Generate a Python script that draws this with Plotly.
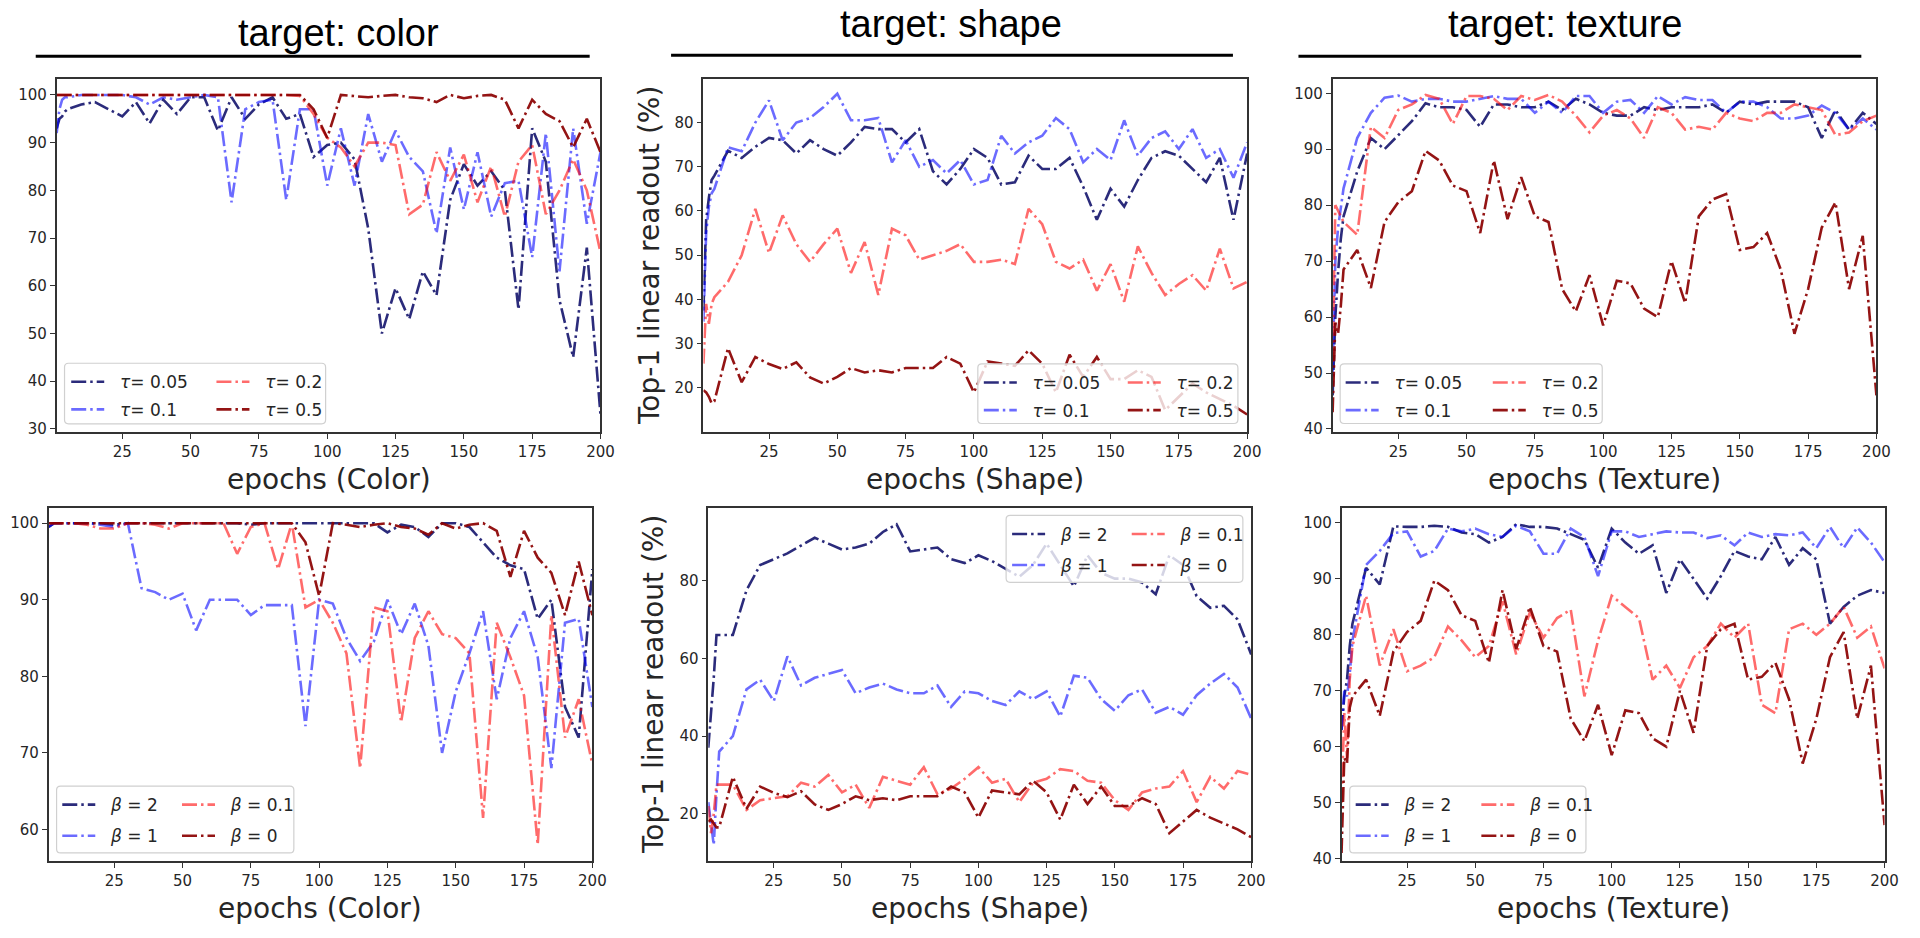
import plotly.graph_objects as go

W, H = 1920, 938

# ---------------- data ----------------
epochs = [1, 2, 3, 4, 5, 10, 15, 20, 25, 30, 35, 40, 45, 50, 55, 60, 65, 70, 75, 80,
          85, 90, 95, 100, 105, 110, 115, 120, 125, 130, 135, 140, 145, 150, 155, 160,
          165, 170, 175, 180, 185, 190, 195, 200]

# target: color, temperature tau
color_tau_005 = [93, 95, 95.5, 96.5, 97, 98, 98.5, 97, 95.5, 98.5, 94, 99, 96, 99.5, 99.5, 92.5, 99.5, 95, 98, 99.5,
                 95, 96, 87, 89.5, 90, 86.5, 72, 50, 59.5, 53, 63, 58, 78, 85.5, 81, 84,
                 80, 55, 93, 86, 57, 45, 68, 33]
color_tau_01 = [92, 97, 99, 99.5, 99.5, 100, 100, 100, 100, 99.5, 98, 99.5, 99, 99.5, 100, 99.5, 77.5, 97, 98.5, 99,
                78, 97, 97, 81, 93, 81, 96, 86, 92.5, 87, 84, 71, 89, 76, 88, 74.5,
                81.5, 82, 66, 92, 63, 93, 73, 88]
color_tau_02 = [100, 100, 100, 100, 100, 100, 100, 100, 100, 100, 100, 100, 100, 100, 100, 100, 100, 100, 100, 100,
                100, 99.8, 96, 91, 89, 85, 90, 90, 89.5, 75, 77, 88, 82, 87.5, 77.5, 85,
                74.5, 86, 89.5, 75, 80, 86.5, 80, 67]
color_tau_05 = [100, 100, 100, 100, 100, 100, 100, 100, 100, 100, 100, 100, 100, 100, 100, 100, 100, 100, 100, 100,
                100, 100, 97, 91, 100, 99.8, 99.5, 99.8, 100, 99.5, 99.3, 98.5, 100, 99.3, 99.8, 100,
                99, 93, 99, 96, 94.5, 89, 95, 88]

# target: shape, temperature tau
shape_tau_005 = [37.5, 58, 63, 67, 68, 73.6, 72, 74.5, 76.5, 76, 73, 76, 74, 72.5, 75.5, 79, 78.5, 78.5, 75.5, 78.5,
                 69, 66, 69.5, 74, 72, 66, 66.5, 72.5, 69.5, 69.5, 72, 65.5, 58, 65, 61, 67,
                 72, 73.5, 72.5, 69.5, 66.5, 72, 58, 73]
shape_tau_01 = [35, 55, 61, 64, 65, 74.4, 73.5, 80, 85, 76, 80, 81, 83.5, 86.5, 80.5, 80.5, 81, 71, 76, 70,
                71.5, 68.5, 71.5, 66, 67, 77, 73, 75.5, 77, 81, 78.5, 71, 74, 71.5, 80.5, 72.5,
                76.5, 78, 74, 78.5, 72, 74, 67.5, 75.5]
shape_tau_02 = [25.5, 39, 34.5, 39, 40.5, 44, 50, 60.5, 50.5, 59, 52.5, 48.5, 52.5, 56, 46, 53, 41, 56, 54.5, 49,
                50, 51, 52.5, 48.5, 48.5, 49, 48, 60.5, 57, 48.5, 47, 49, 42, 48, 39.5, 52,
                46, 41, 43.5, 45.5, 42, 51.5, 42.5, 44]
shape_tau_05 = [19.5, 19, 18, 16.5, 17, 29, 21.3, 27, 25.4, 24.3, 25.8, 22.4, 21, 22.5, 24.5, 23.5, 24, 23.5, 24.5, 24.5,
                24.5, 27, 25.5, 19, 26, 25.5, 25, 28.5, 25.5, 19, 27.5, 22.5, 27, 22, 22, 24,
                22.5, 15, 18, 21, 19, 17.5, 16, 14]

# target: texture, temperature tau
texture_tau_005 = [46, 60, 68, 74, 78, 86, 92, 90, 92.5, 95, 98.2, 97.5, 97.5, 97, 94, 98, 98, 97.5, 97.5, 98.5,
                   97, 99, 98, 96.5, 96, 96, 97.5, 97, 97.5, 97.5, 97.5, 98, 96.5, 98.5, 98, 98.5,
                   98.5, 98.5, 97.5, 92, 97, 93.5, 96.5, 94.5]
texture_tau_01 = [50, 70, 76, 80, 83, 92, 96.5, 99.2, 99.6, 98.5, 99, 99, 98.5, 98.5, 99, 99.5, 99, 99, 96.5, 98.5,
                  96.5, 99.5, 99.5, 96.5, 98.5, 98.8, 96.5, 99.5, 98, 99.3, 98.8, 98.8, 96.5, 98.5, 98.5, 97.5,
                  95.5, 95.5, 96, 97.8, 96.5, 93.5, 95.5, 93.5]
texture_tau_02 = [52, 80, 79, 78, 77, 74.7, 94, 92, 97, 98, 99.7, 99, 94.5, 99.5, 99.5, 99, 97, 99.5, 98.8, 99.7,
                  98.5, 96, 93, 96, 97, 95.5, 92, 97.5, 96.5, 93.5, 94, 93.5, 96.5, 95.5, 95, 96.5,
                  96.5, 98, 97.5, 97, 92.5, 93, 95, 96]
texture_tau_05 = [43, 59, 57, 62, 68.5, 72, 65.2, 77, 80.5, 82.5, 89.7, 88, 83.5, 82.5, 75, 88, 77.5, 85, 78, 77,
                  65, 61, 67.5, 58.5, 66.5, 66, 61.5, 60, 70, 62.5, 78, 81, 82, 72, 72.5, 75,
                  68.5, 57, 65, 76, 80.5, 65, 74.5, 46]

# target: color, beta
color_beta_2 = [99.5, 99.8, 100, 100, 100, 100, 100, 100, 99.8, 100, 100, 100, 100, 100, 100, 100, 100, 100, 99.8, 100,
                100, 100, 100, 100, 100, 100, 100, 100, 98.8, 99.8, 99.5, 98.2, 100, 100, 99.5, 97.5,
                95.5, 94.5, 94, 87.5, 90, 76, 72, 94]
color_beta_1 = [99.5, 99.8, 100, 100, 100, 100, 100, 99.8, 99.5, 100, 91.5, 91, 90, 90.8, 86, 90, 90, 90, 88, 89.3,
                89.3, 89.3, 73.5, 90, 89.5, 85, 82, 84.5, 90, 85.5, 89.5, 84, 70, 78, 83, 88.5,
                77, 85, 88.5, 82.5, 68, 87, 87.5, 76]
color_beta_01 = [100, 100, 100, 100, 100, 100, 99.8, 99.3, 99.3, 100, 100, 99.8, 99.3, 100, 100, 100, 100, 96, 99.5, 100,
                 94, 100, 89, 90, 87, 83, 68, 89, 88.5, 74, 85, 88.5, 85.5, 85, 83, 61.5,
                 87, 82.5, 77.5, 58, 88, 72, 77, 68.5]
color_beta_0 = [100, 100, 100, 100, 100, 100, 100, 100, 100, 100, 100, 100, 100, 100, 100, 100, 100, 100, 100, 100,
                100, 100, 97.5, 90.5, 100, 99.8, 99.5, 99.8, 100, 99.5, 99.3, 98.5, 100, 99.3, 99.8, 100,
                99, 93, 99, 95.5, 93.5, 88, 95, 88]

# target: shape, beta
shape_beta_2 = [37, 45, 55, 66, 66, 66, 77.5, 84, 85.5, 87, 89, 91, 89.5, 88, 88.5, 89.5, 92.5, 94.5, 87.5, 88,
                88.5, 85.5, 84.5, 86.5, 85, 83, 81, 84, 89.5, 84, 78.5, 86.5, 82, 80.5, 80.5, 79.5,
                76.5, 86.5, 84, 76, 73, 73.5, 70, 61]
shape_beta_1 = [23, 18, 12, 25, 36, 40, 52, 54.5, 49, 60.5, 53, 55, 56, 57, 51, 52.5, 53.5, 52, 51, 51,
                53, 47.5, 51.5, 51, 49, 48, 51.5, 49.5, 51.5, 45, 55.5, 55, 49.5, 46.5, 50.5, 52,
                46, 47.5, 45.5, 50.5, 53.5, 56, 52.5, 44.5]
shape_beta_01 = [22, 15, 20, 27.5, 27.5, 27.5, 21, 23.5, 24, 24.5, 28, 27, 30, 25.5, 27.5, 21.5, 29.5, 28.5, 27.5, 32,
                 25, 26.5, 29, 32, 28, 29, 23, 28, 29, 31.5, 31, 28.5, 28, 23.5, 21, 25.5,
                 26.5, 27, 31, 23, 29.5, 26.5, 31, 30]
shape_beta_0 = [18, 18.5, 17.5, 16.5, 16.5, 29.5, 21.3, 27, 25.4, 24.3, 25.8, 22.4, 21, 22.5, 24.5, 23.5, 24, 23.5, 24.5, 24.5,
                24.5, 27, 25.5, 19, 26, 25.5, 25, 28.5, 25.5, 18.5, 27.5, 22.5, 27, 22, 22, 24,
                22.5, 15, 18, 21, 19, 17.5, 16, 14]

# target: texture, beta
texture_beta_2 = [63, 69, 72, 78, 82, 92, 89, 99.4, 99.3, 99.3, 99.5, 99.3, 98.3, 98, 96.5, 97.5, 99.8, 99.3, 99.3, 99,
                  98, 97, 92, 99, 96.5, 94.5, 96, 87.5, 93.5, 90, 86.5, 90.5, 95, 94, 93.5, 97.5,
                  92.5, 95.5, 93.5, 82, 85, 87, 88, 87.5]
texture_beta_1 = [63, 70, 69, 73, 79, 92.5, 95, 98.2, 98.5, 94, 95, 99, 98.5, 99, 98, 97.5, 99.5, 98.5, 94.5, 94.5,
                  99, 97.5, 90.5, 98.5, 98.5, 97.5, 98, 98.5, 98.3, 98.3, 97.3, 97.8, 96, 98.3, 97.5, 98,
                  97.8, 98.3, 95.5, 99.3, 95.5, 99.2, 96.5, 93]
texture_beta_01 = [50, 66, 58, 72, 78, 87, 74.5, 81, 73.5, 74.5, 76, 81.5, 79, 76, 78, 86, 76.5, 84, 79.5, 83,
                   84.5, 69, 79, 87, 85, 83, 72, 74.5, 70.5, 76, 78, 82, 79.5, 82, 67.5, 66,
                   81, 82, 80, 82, 85, 79.5, 81.5, 74]
texture_beta_0 = [41, 58, 57, 67, 69, 72, 65.5, 77, 80.5, 82.5, 89.7, 88, 83.5, 82.5, 75, 88, 77.5, 85, 78, 77,
                  65, 61, 67.5, 58.5, 66.5, 66, 61.5, 60, 70, 62.5, 78, 81, 82, 72, 72.5, 75,
                  68.5, 57, 65, 76, 80.5, 65, 74.5, 46]

NB = "\u00a0\u00a0"
tau_labels = [NB + "<i>τ</i>= 0.05", NB + "<i>τ</i>= 0.1", NB + "<i>τ</i>= 0.2", NB + "<i>τ</i>= 0.5"]
beta_labels = [NB + "<i>β</i> = 2", NB + "<i>β</i> = 1", NB + "<i>β</i> = 0.1", NB + "<i>β</i> = 0"]
titles = ["target: color", "target: shape", "target: texture"]
xlabels = ["epochs (Color)", "epochs (Shape)", "epochs (Texture)"]
ylabel = "Top-1 linear readout (%)"
x_ticks = [25, 50, 75, 100, 125, 150, 175, 200]

panels = [
    dict(series=[color_tau_005, color_tau_01, color_tau_02, color_tau_05], labels=tau_labels,
         yrange=[29.4, 103.4], yticks=[30, 40, 50, 60, 70, 80, 90, 100]),
    dict(series=[shape_tau_005, shape_tau_01, shape_tau_02, shape_tau_05], labels=tau_labels,
         yrange=[10.1, 89.9], yticks=[10, 20, 30, 40, 50, 60, 70, 80]),
    dict(series=[texture_tau_005, texture_tau_01, texture_tau_02, texture_tau_05], labels=tau_labels,
         yrange=[39.5, 102.6], yticks=[40, 50, 60, 70, 80, 90, 100]),
    dict(series=[color_beta_2, color_beta_1, color_beta_01, color_beta_0], labels=beta_labels,
         yrange=[55.9, 102.0], yticks=[60, 70, 80, 90, 100]),
    dict(series=[shape_beta_2, shape_beta_1, shape_beta_01, shape_beta_0], labels=beta_labels,
         yrange=[7.9, 98.7], yticks=[20, 40, 60, 80]),
    dict(series=[texture_beta_2, texture_beta_1, texture_beta_01, texture_beta_0], labels=beta_labels,
         yrange=[39.6, 102.7], yticks=[40, 50, 60, 70, 80, 90, 100]),
]

# ---------------- layout geometry (pixels) ----------------
axes_px = [
    (57.1, 604.9, 79.3, 435.0),
    (708.6, 1256.3, 79.3, 435.0),
    (1342.4, 1890.2, 79.3, 435.0),
    (49.0, 596.7, 511.7, 867.3),
    (713.5, 1260.4, 511.7, 867.3),
    (1351.4, 1898.4, 511.7, 867.3),
]
# legend boxes (x0, y0, x1, y1), offset of column samples from box left, row gap
legend_px = [
    ((65, 366, 328, 427), (6.7, 153), 2.5),
    ((985, 366.7, 1247, 426.7), (6, 151), 2.5),
    ((1350, 366.7, 1614, 426.7), (5.5, 153.7), 2.5),
    ((57, 792, 296, 859.3), (5.7, 126.3), 6),
    ((1013.5, 519.3, 1252, 586.7), (6, 126.5), 6),
    ((1359.6, 792, 1597.6, 859.3), (6, 132.6), 6),
]

colors = ["rgba(25,25,112,0.92)", "rgba(0,0,255,0.58)", "rgba(255,0,0,0.58)", "rgba(139,0,0,0.92)"]
DASH = "15px,4px,2.5px,4px"
TXT = "#262626"


def fx(x):
    return x / W


def fy(y):
    return 1 - y / H


fig = go.Figure()
layout = dict(width=W, height=H, margin=dict(l=0, r=0, t=0, b=0),
              paper_bgcolor="white", plot_bgcolor="white", showlegend=True,
              font=dict(family="DejaVu Sans", color=TXT))
shapes = []
annotations = []

for k, p in enumerate(panels):
    ax = "" if k == 0 else str(k + 1)
    x0, x1, y0, y1 = axes_px[k]
    axis_common = dict(showgrid=False, zeroline=False, showline=True, mirror=True,
                       linecolor="#333333", linewidth=1.5, ticks="outside", ticklen=5,
                       tickwidth=1.3, tickcolor="#333333",
                       tickfont=dict(family="DejaVu Sans", size=15, color=TXT))
    layout["xaxis" + ax] = dict(domain=[fx(x0), fx(x1)], range=[1, 200], tickvals=x_ticks,
                                anchor="y" + ax, **axis_common)
    layout["yaxis" + ax] = dict(domain=[fy(y1), fy(y0)], range=p["yrange"], tickvals=p["yticks"],
                                anchor="x" + ax, **axis_common)
    (bx0, by0, bx1, by1), (c1off, c2off), gap = legend_px[k]
    lg1 = "legend" if k == 0 else "legend%d" % (2 * k + 1)
    lg2 = "legend%d" % (2 * k + 2)
    for i, (ys, lab) in enumerate(zip(p["series"], p["labels"])):
        fig.add_trace(go.Scatter(
            x=epochs, y=ys, mode="lines", name=lab,
            line=dict(color=colors[i], width=2.6, dash=DASH),
            xaxis="x" + ax, yaxis="y" + ax,
            legend=lg1 if i in (0, 1) else lg2,
            legendgroup="g%d_%d" % (k, i),
        ))
    for lg, off in ((lg1, c1off), (lg2, c2off)):
        layout[lg] = dict(x=fx(bx0 + off - 5), y=fy(by0 + 1), xanchor="left", yanchor="top",
                          bgcolor="rgba(0,0,0,0)", borderwidth=0, itemwidth=33,
                          traceorder="grouped", tracegroupgap=gap,
                          font=dict(family="DejaVu Sans", size=17, color=TXT))
    r = 4
    path = ("M{a},{b} L{c},{b} Q{d},{b} {d},{e} L{d},{f} Q{d},{g} {c},{g} L{a},{g} "
            "Q{h},{g} {h},{f} L{h},{e} Q{h},{b} {a},{b} Z").format(
        a=fx(bx0 + r), b=fy(by0), c=fx(bx1 - r), d=fx(bx1), e=fy(by0 + r),
        f=fy(by1 - r), g=fy(by1), h=fx(bx0))
    shapes.append(dict(type="path", path=path, xref="paper", yref="paper", layer="above",
                       fillcolor="rgba(255,255,255,0.8)", line=dict(color="#d0d0d0", width=1.2)))
    # x label
    cx = (x0 + x1) / 2
    annotations.append(dict(text=xlabels[k % 3], x=fx(cx), y=fy(y1 + 48), xref="paper", yref="paper",
                            showarrow=False, xanchor="center", yanchor="middle",
                            font=dict(family="DejaVu Sans", size=28, color=TXT)))
    if k % 3 == 1:
        annotations.append(dict(text=ylabel, x=fx(x0 - 55), y=fy((y0 + y1) / 2), xref="paper",
                                yref="paper", showarrow=False, textangle=-90,
                                xanchor="center", yanchor="middle",
                                font=dict(family="DejaVu Sans", size=28, color=TXT)))

# titles and underlines
title_pos = [(341, 33), (958, 24), (1576, 24)]
underline = [(36, 594, 56.7), (676, 1242, 55.7), (1308, 1875, 56.7)]
for t, (tx, ty), (lx0, lx1, ly) in zip(titles, title_pos, underline):
    annotations.append(dict(text=t, x=fx(tx), y=fy(ty), xref="paper", yref="paper", showarrow=False,
                            xanchor="center", yanchor="middle",
                            font=dict(family="Liberation Sans", size=38, color="black")))
    shapes.append(dict(type="line", xref="paper", yref="paper", x0=fx(lx0), x1=fx(lx1),
                       y0=fy(ly), y1=fy(ly), line=dict(color="black", width=3)))

layout["shapes"] = shapes
layout["annotations"] = annotations
fig.update_layout(**layout)

fig.write_html("out.html", config={"displayModeBar": False},
               post_script="document.body.style.margin='0';document.body.style.overflow='hidden';")
